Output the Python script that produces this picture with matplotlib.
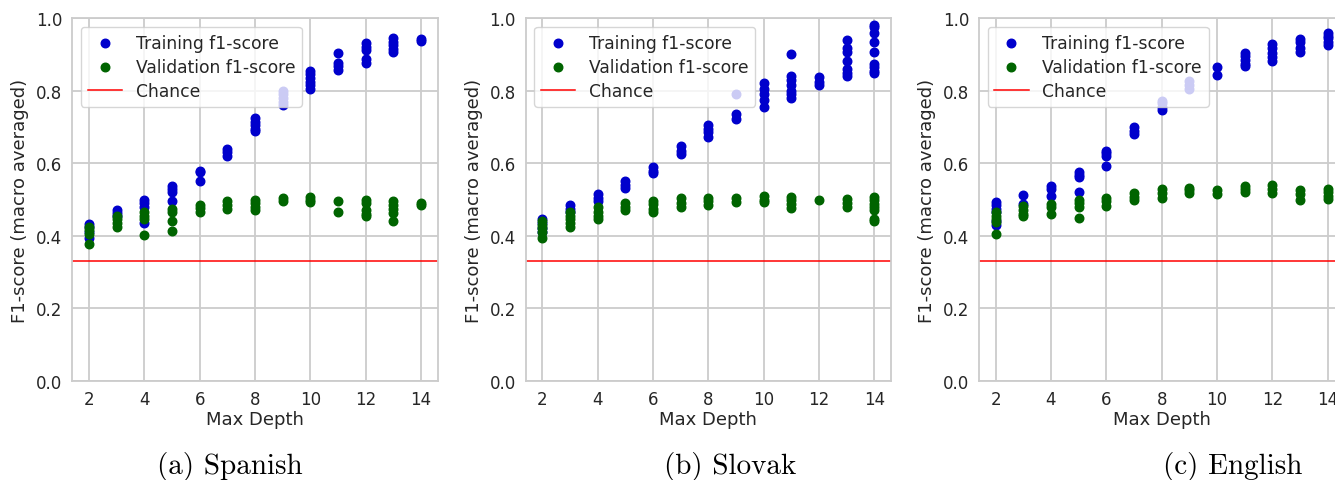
import matplotlib
matplotlib.use("Agg")
import matplotlib.pyplot as plt

depths = [2, 3, 4, 5, 6, 7, 8, 9, 10, 11, 12, 13, 14]

# Spanish
es_train = [
    [0.432, 0.425, 0.41, 0.394],
    [0.47, 0.462, 0.455],
    [0.498, 0.49, 0.48, 0.435],
    [0.536, 0.528, 0.52, 0.496],
    [0.58, 0.575, 0.55],
    [0.64, 0.63, 0.62],
    [0.725, 0.715, 0.705, 0.695, 0.688],
    [0.80, 0.79, 0.78, 0.77, 0.762],
    [0.855, 0.845, 0.835, 0.825, 0.815, 0.805],
    [0.904, 0.878, 0.868, 0.858],
    [0.932, 0.922, 0.912, 0.888, 0.878],
    [0.945, 0.935, 0.925, 0.915, 0.908],
    [0.943, 0.936],
]
es_val = [
    [0.425, 0.415, 0.405, 0.378],
    [0.455, 0.445, 0.435, 0.425],
    [0.465, 0.455, 0.447, 0.403],
    [0.475, 0.465, 0.442, 0.414],
    [0.485, 0.476, 0.465],
    [0.495, 0.485, 0.475],
    [0.50, 0.49, 0.48, 0.47],
    [0.505, 0.495],
    [0.508, 0.498, 0.492],
    [0.495, 0.466],
    [0.50, 0.49, 0.47, 0.46, 0.455],
    [0.495, 0.485, 0.475, 0.462, 0.44],
    [0.49, 0.485],
]

# Slovak
sk_train = [
    [0.445, 0.435, 0.42, 0.41],
    [0.485, 0.475, 0.465],
    [0.515, 0.505, 0.495],
    [0.55, 0.54, 0.532],
    [0.59, 0.58, 0.572],
    [0.648, 0.635, 0.625],
    [0.705, 0.695, 0.685, 0.672],
    [0.79, 0.735, 0.722],
    [0.822, 0.805, 0.79, 0.775, 0.755],
    [0.902, 0.84, 0.83, 0.815, 0.80, 0.79, 0.78],
    [0.838, 0.825, 0.815],
    [0.94, 0.918, 0.908, 0.883, 0.86, 0.85, 0.84],
    [0.982, 0.975, 0.96, 0.935, 0.908, 0.875, 0.865, 0.855, 0.848],
]
sk_val = [
    [0.44, 0.43, 0.42, 0.41, 0.394],
    [0.465, 0.455, 0.445, 0.435, 0.425],
    [0.478, 0.465, 0.455, 0.445],
    [0.49, 0.48, 0.47],
    [0.497, 0.487, 0.475, 0.466],
    [0.503, 0.49, 0.48],
    [0.505, 0.495, 0.485],
    [0.503, 0.492],
    [0.51, 0.50, 0.492],
    [0.508, 0.498, 0.488, 0.477],
    [0.499],
    [0.502, 0.49, 0.48],
    [0.508, 0.498, 0.488, 0.478, 0.47, 0.446, 0.44],
]

# English
en_train = [
    [0.493, 0.485, 0.475, 0.465, 0.44, 0.43],
    [0.513, 0.488],
    [0.538, 0.53, 0.509],
    [0.577, 0.568, 0.562, 0.522],
    [0.635, 0.627, 0.62, 0.592],
    [0.70, 0.69, 0.68],
    [0.773, 0.765, 0.754, 0.746],
    [0.826, 0.815, 0.805],
    [0.865, 0.844],
    [0.905, 0.895, 0.885, 0.875, 0.869],
    [0.928, 0.918, 0.905, 0.893, 0.882],
    [0.943, 0.935, 0.918, 0.908],
    [0.96, 0.952, 0.945, 0.935, 0.925],
]
en_val = [
    [0.465, 0.455, 0.445, 0.437, 0.405],
    [0.482, 0.47, 0.46, 0.455],
    [0.488, 0.478, 0.46],
    [0.499, 0.49, 0.478, 0.449],
    [0.505, 0.495, 0.482],
    [0.517, 0.508, 0.498],
    [0.528, 0.518, 0.505],
    [0.533, 0.525, 0.517],
    [0.526, 0.516],
    [0.538, 0.53, 0.522],
    [0.54, 0.53, 0.518],
    [0.525, 0.515, 0.50],
    [0.53, 0.52, 0.51, 0.502],
]

chance = 0.33
captions = ["(a) Spanish", "(b) Slovak", "(c) English"]
legend_labels = ["Training f1-score", "Validation f1-score", "Chance"]
xticks = [2, 4, 6, 8, 10, 12, 14]
yticks = [0.0, 0.2, 0.4, 0.6, 0.8, 1.0]

panels = [(es_train, es_val), (sk_train, sk_val), (en_train, en_val)]

TXT = "#262626"
GRID = "#cccccc"
plt.rcParams["font.family"] = ["DejaVu Sans"]

fig = plt.figure(figsize=(13.35, 4.81), dpi=100)
lefts = [72.3, 525.7, 979.0]
W, H = 1335.0, 481.0
cap_x = [229.5, 730, 1233]

def flat(groups):
    xs, ys = [], []
    for d, g in zip(depths, groups):
        for v in g:
            xs.append(d)
            ys.append(v)
    return xs, ys

for i, (tr, va) in enumerate(panels):
    ax = fig.add_axes([lefts[i] / W, (H - 381.7) / H, 365.4 / W, 362.4 / H])
    ax.set_facecolor("white")
    ax.grid(True, color=GRID, linewidth=1.3)
    ax.set_axisbelow(True)
    for s in ax.spines.values():
        s.set_color(GRID)
        s.set_linewidth(1.3)
    xt, yt = flat(tr)
    xv, yv = flat(va)
    h1 = ax.scatter(xt, yt, s=38, color="#0000cc", label=legend_labels[0], zorder=3)
    h2 = ax.scatter(xv, yv, s=38, color="#006400", label=legend_labels[1], zorder=3)
    h3 = ax.axhline(chance, color="red", linewidth=1.1, label=legend_labels[2])
    ax.set_ylim(0, 1.0)
    ax.set_xlim(1.4, 14.6)
    ax.set_xticks(xticks)
    ax.set_yticks(yticks)
    ax.set_yticklabels([f"{v:.1f}" for v in yticks])
    ax.tick_params(length=0, labelsize=12, colors=TXT, pad=7)
    ax.set_xlabel("Max Depth", fontsize=13, color=TXT, labelpad=1)
    ax.set_ylabel("F1-score (macro averaged)", fontsize=13, color=TXT, labelpad=5)
    leg = ax.legend(handles=[h1, h2, h3], loc="upper left", fontsize=12.3,
                    scatterpoints=1, framealpha=0.8, edgecolor="#cccccc",
                    fancybox=True, labelspacing=0.36)
    for t in leg.get_texts():
        t.set_color(TXT)
    fig.text(cap_x[i] / W, 1 - 467 / H, captions[i], ha="center", va="center",
             fontsize=21, family="cmr10", color="black")

fig.savefig("out.png", dpi=100)
